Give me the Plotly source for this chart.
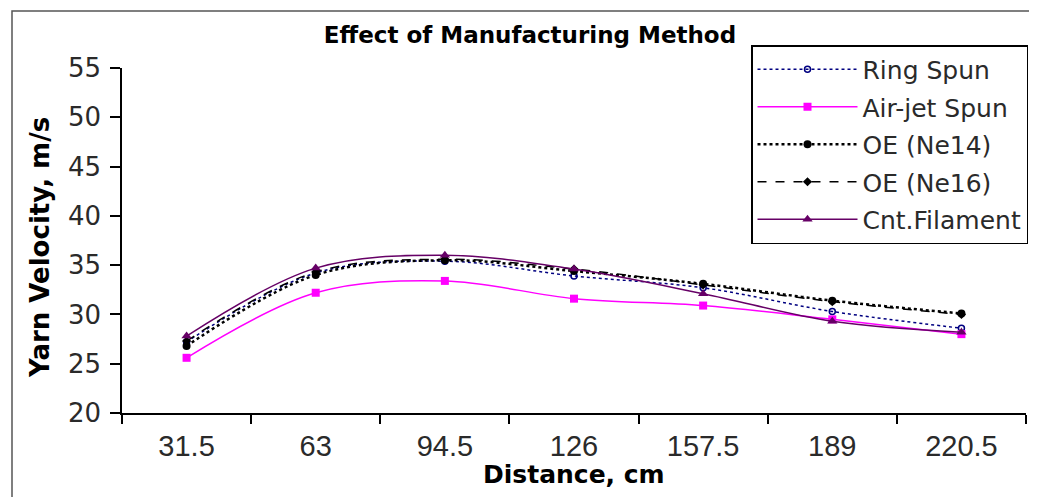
import plotly.graph_objects as go

distance = ["31.5", "63", "94.5", "126", "157.5", "189", "220.5"]
ring_spun = [27.2, 34.2, 35.4, 33.9, 32.7, 30.3, 28.6]
air_jet = [25.6, 32.2, 33.4, 31.6, 30.9, 29.5, 28.0]
oe_ne14 = [26.8, 34.0, 35.5, 34.4, 33.1, 31.4, 30.1]
oe_ne16 = [27.3, 34.3, 35.6, 34.6, 33.0, 31.3, 30.0]
cnt_filament = [27.8, 34.7, 36.0, 34.6, 32.1, 29.3, 28.2]
y_ticks = [20, 25, 30, 35, 40, 45, 50, 55]

SANS = "Liberation Sans, Arial, sans-serif"
WIDE = "DejaVu Sans, Verdana, sans-serif"

series = [
    ("Ring Spun", ring_spun, dict(color="#000080", width=1.5, dash="dot"),
     dict(symbol="circle-open", size=6, color="#000080", line=dict(width=1.5, color="#000080"))),
    ("Air-jet Spun", air_jet, dict(color="#FF00FF", width=1.5, dash="solid"),
     dict(symbol="square", size=8, color="#FF00FF")),
    ("OE (Ne14)", oe_ne14, dict(color="#000000", width=2.5, dash="dot"),
     dict(symbol="circle", size=8, color="#000000")),
    ("OE (Ne16)", oe_ne16, dict(color="#000000", width=1.5, dash="dash"),
     dict(symbol="diamond", size=7, color="#000000")),
    ("Cnt.Filament", cnt_filament, dict(color="#660066", width=1.5, dash="solid"),
     dict(symbol="triangle-up", size=9, color="#660066")),
]

fig = go.Figure()
for i, (name, vals, line, marker) in enumerate(series):
    fig.add_trace(go.Scatter(
        x=distance, y=vals, name=name, mode="lines+markers",
        line=dict(shape="spline", smoothing=1.0, **line),
        marker=marker, legendgroup=f"g{i}",
    ))

W, H = 1037, 497
L, R, T, B = 114, 19, 60, 92
pw, ph = W - L - R, H - T - B

def px(x):
    return (x - L) / pw

def py(y):
    return (H - B - y) / ph

fig.update_layout(
    width=W, height=H,
    margin=dict(l=L, r=R, t=T, b=B),
    paper_bgcolor="white", plot_bgcolor="white",
    font=dict(family=SANS, color="#000000"),
    title=dict(text="<b>Effect of Manufacturing Method</b>", x=522 / W, xref="container",
               xanchor="center", y=1 - 27 / H, yref="container", yanchor="middle",
               font=dict(size=23, family=WIDE, color="#000000")),
    xaxis=dict(type="category", range=[-0.5, 6.5], showline=True, linecolor="#000000",
               linewidth=1.5, ticks="outside", ticklen=9, tickwidth=1.5, tickcolor="#000000",
               tickson="boundaries", showgrid=False, zeroline=False, ticklabelstandoff=6,
               tickfont=dict(size=29, family=SANS, color="#2a2a2a")),
    yaxis=dict(range=[20, 55], tickvals=y_ticks, showline=True, linecolor="#000000",
               linewidth=1.5, ticks="outside", ticklen=10, tickwidth=1.5, tickcolor="#000000",
               showgrid=False, zeroline=False, ticklabelstandoff=4,
               tickfont=dict(size=26, family=WIDE, color="#2a2a2a")),
    legend=dict(x=px(743), y=py(37), xanchor="left", yanchor="top",
                bgcolor="white", bordercolor="#000000", borderwidth=1.5,
                font=dict(size=25, family=WIDE, color="#2a2a2a"),
                traceorder="grouped", tracegroupgap=2, itemwidth=100),
    showlegend=True,
)

fig.add_annotation(text="<b>Yarn Velocity, m/s</b>", xref="paper", yref="paper",
                   x=px(32), y=py(240), textangle=-90, showarrow=False,
                   xanchor="center", yanchor="middle",
                   font=dict(size=26, family=WIDE, color="#000000"))
fig.add_annotation(text="<b>Distance, cm</b>", xref="paper", yref="paper",
                   x=px(566), y=py(466), showarrow=False,
                   xanchor="center", yanchor="middle",
                   font=dict(size=25, family=WIDE, color="#000000"))

fig.add_shape(type="rect", xref="paper", yref="paper",
              x0=px(4), x1=px(1033), y0=py(494), y1=py(3),
              line=dict(color="#555555", width=1.5), fillcolor="rgba(0,0,0,0)", layer="below")

fig.write_html("out.html")
